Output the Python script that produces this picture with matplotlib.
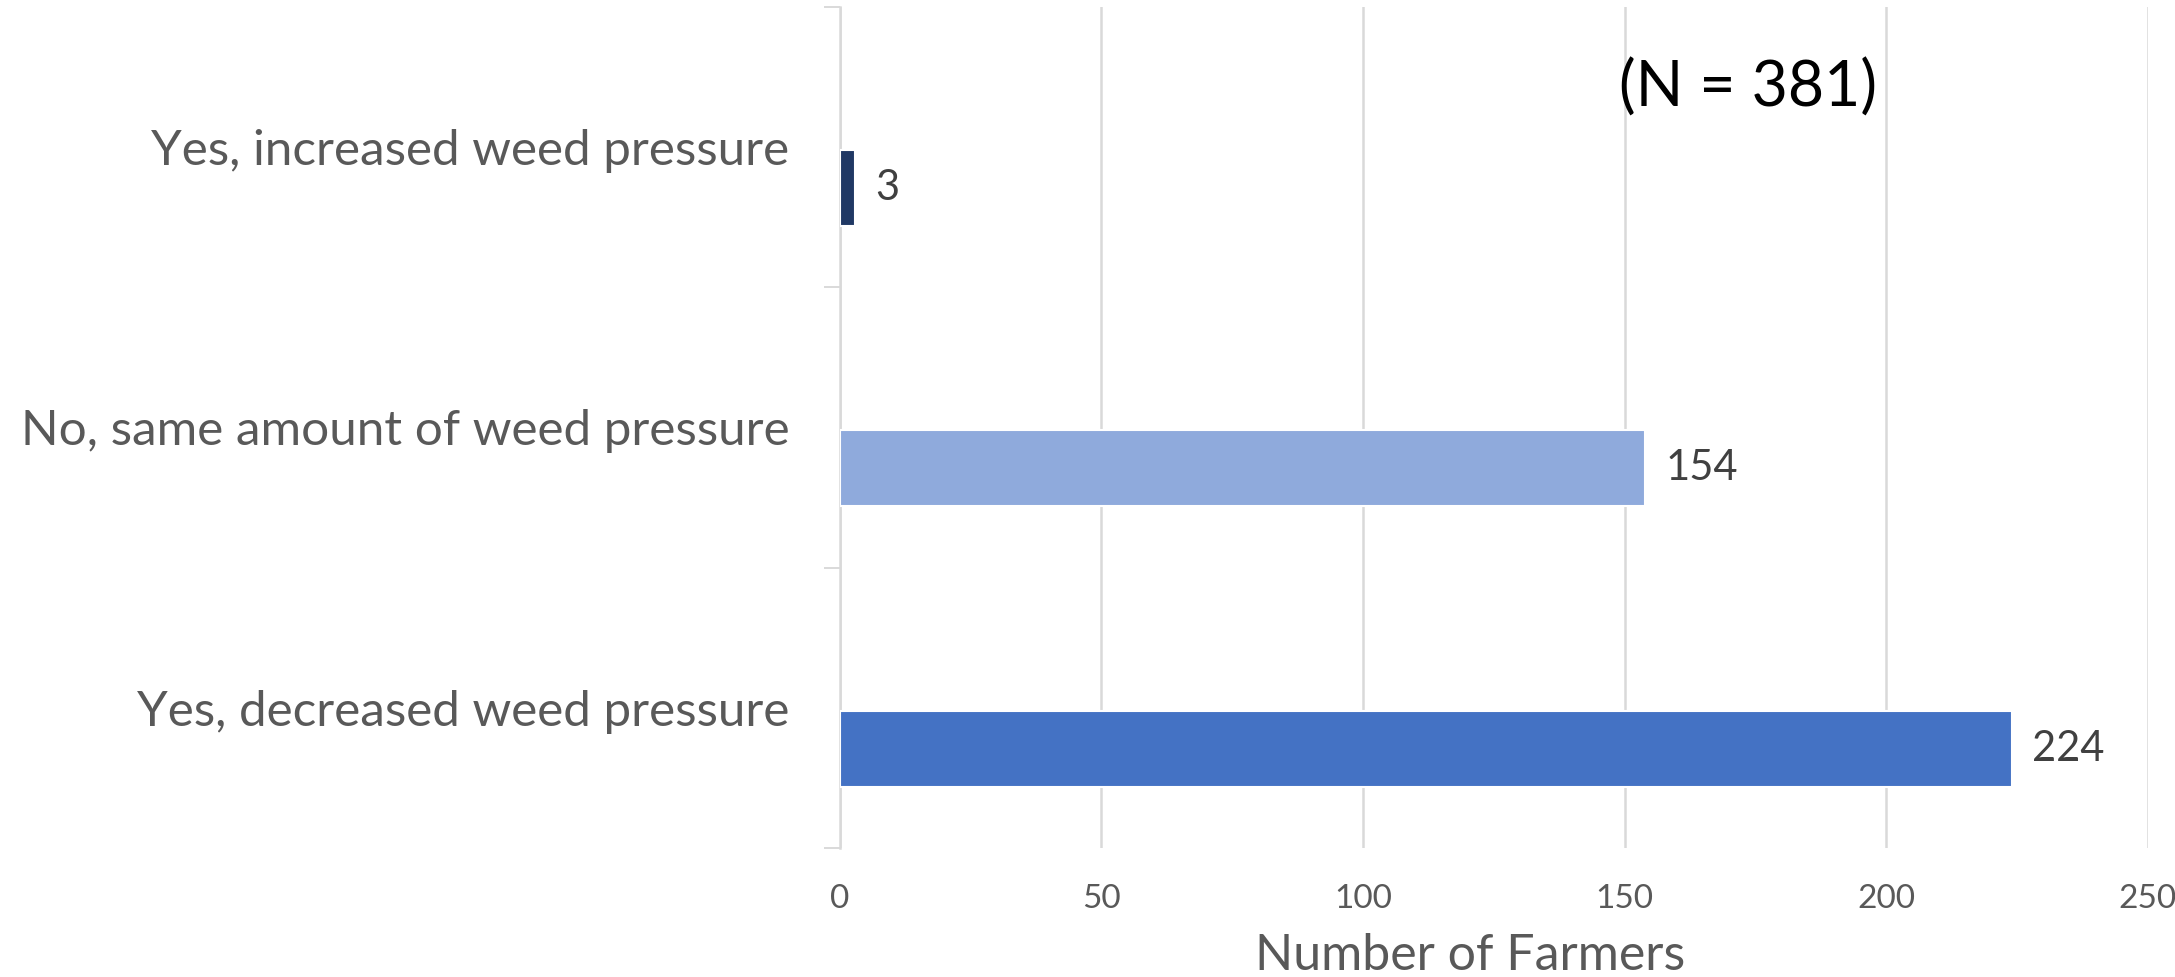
import matplotlib
matplotlib.use("Agg")
import matplotlib.pyplot as plt
from matplotlib.ticker import FixedLocator

# Survey responses, listed top to bottom
categories = [
    "Yes, increased weed pressure",
    "No, same amount of weed pressure",
    "Yes, decreased weed pressure",
]
farmers = [3, 154, 224]
bar_colors = ["#203864", "#8FAADC", "#4472C4"]
x_ticks = [0, 50, 100, 150, 200, 250]
x_label = "Number of Farmers"
note = "(N = 381)"

plt.rcParams["font.family"] = ["Lato", "DejaVu Sans"]

fig = plt.figure(figsize=(21.75, 9.77), dpi=100)
ax = fig.add_axes([0.386, 0.132, 0.6015, 0.861])

n = len(categories)
centers = [n - 1 - i for i in range(n)]
shift = 0.146       # bars sit slightly below the category centre
bar_h = 0.271

for c, v, col in zip(centers, farmers, bar_colors):
    ax.barh(c - shift, v, height=bar_h, color=col, edgecolor="white",
            linewidth=1.5, zorder=3)
    ax.text(v + 3.8, c - shift, f"{v}", va="center", ha="left",
            fontsize=30, color="#404040", zorder=4)

ax.set_xlim(0, 250)
ax.set_ylim(-0.5, n - 0.5)

ax.set_xticks(x_ticks)
ax.set_xticklabels([str(t) for t in x_ticks], fontsize=24, color="#595959")
ax.tick_params(axis="x", length=0, pad=26)
ax.xaxis.grid(True, color="#D9D9D9", linewidth=1.8, zorder=0)
ax.set_axisbelow(True)

ax.set_yticks(centers)
ax.set_yticklabels(categories, fontsize=35.6, color="#595959")
ax.tick_params(axis="y", which="major", length=0, pad=36)
ax.yaxis.set_minor_locator(FixedLocator([k - 0.5 for k in range(n + 1)]))
ax.tick_params(axis="y", which="minor", length=11.5, width=1.4,
               color="#D9D9D9", direction="out")

for side in ["top", "right", "bottom"]:
    ax.spines[side].set_visible(False)
ax.spines["left"].set_color("#D9D9D9")
ax.spines["left"].set_linewidth(1.8)

ax.set_xlabel(x_label, fontsize=36, color="#595959", va="baseline")
ax.xaxis.set_label_coords(0.482, -0.145)

fig.text(0.8037, 0.91, note, fontsize=45, color="black",
         ha="center", va="center")

fig.savefig("out.png", dpi=100, facecolor="white")
